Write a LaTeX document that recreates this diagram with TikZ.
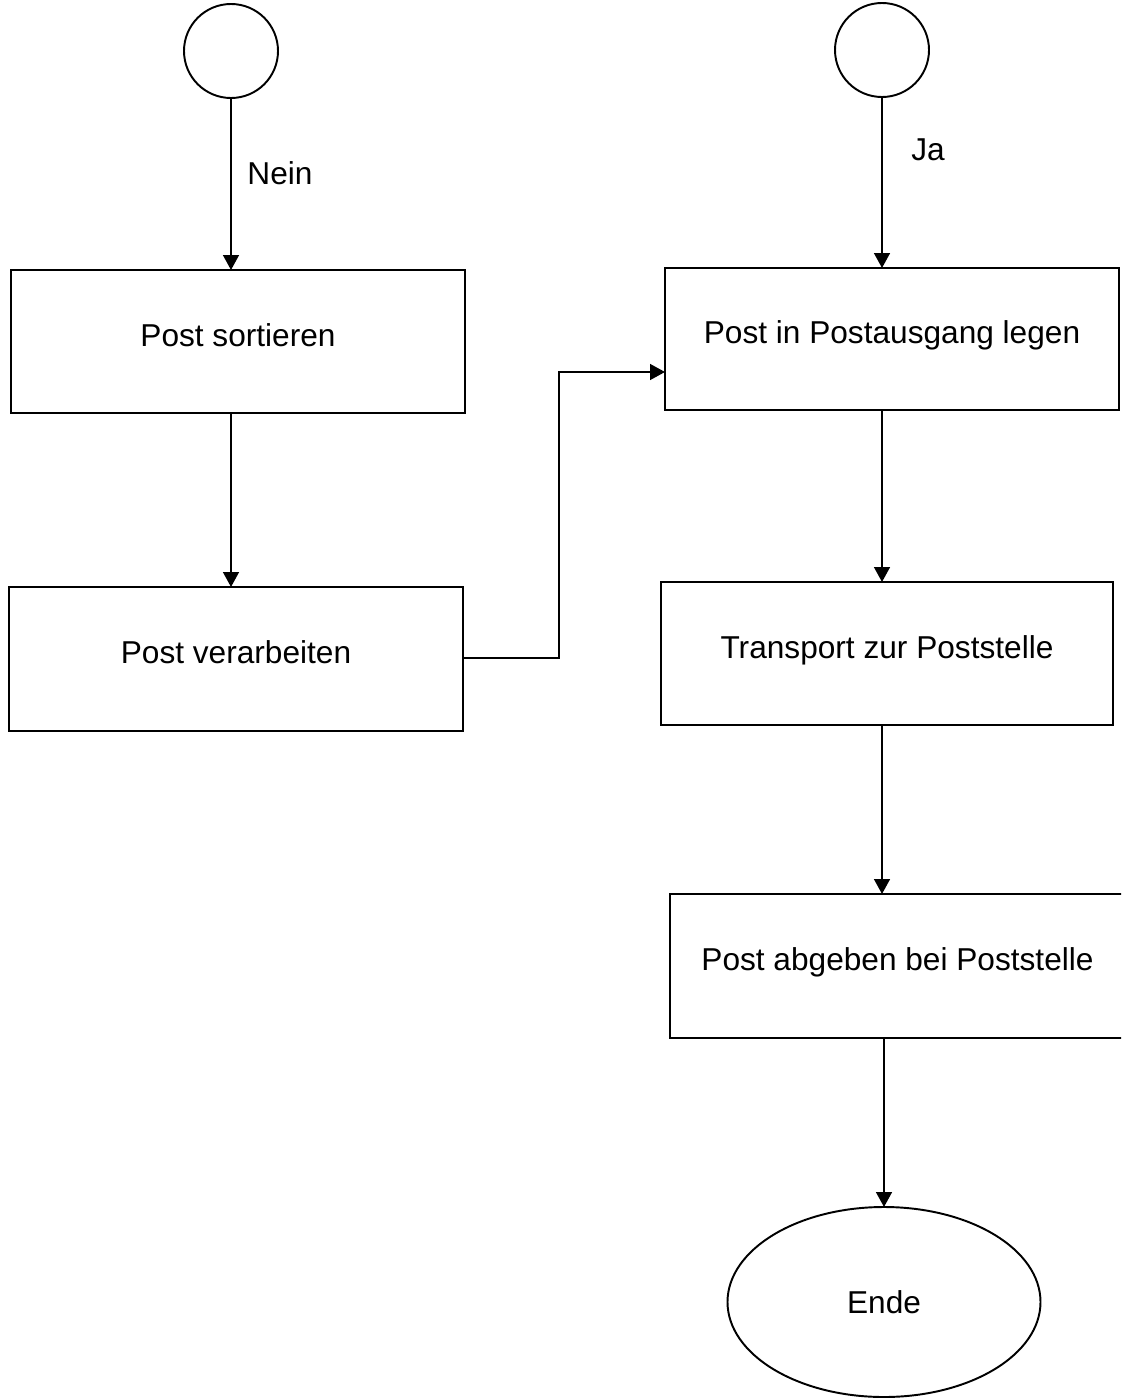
\documentclass[tikz,border=0pt]{standalone}
\usepackage{fontspec}
\setmainfont{Liberation Sans}
\usetikzlibrary{shapes.geometric,arrows.meta}

\tikzset{
  kasten/.style={draw, rectangle, line width=1.1pt, inner sep=0pt, outer sep=0pt, text height=13pt, text depth=7.5pt},
  kreis/.style={draw, circle, line width=1.1pt, minimum size=1.88cm, inner sep=0pt, outer sep=0pt},
  ende/.style={draw, ellipse, line width=1.1pt, minimum width=6.26cm, minimum height=3.8cm, inner sep=0pt, outer sep=0pt},
  marke/.style={inner sep=0pt},
  pfeil/.style={line width=1.1pt, -{Triangle[length=8.5pt,width=9pt]}}
}

\begin{document}
\begin{tikzpicture}[font=\fontsize{18}{22}\selectfont]
    \useasboundingbox (0,0) rectangle (22.42,-28);
    \clip (0,0) rectangle (22.42,-28);

    \node[kreis] (start1) at ( 4.62, -1.02) {};
    \node[kreis] (start2) at (17.64, -1.00) {};

    \node[kasten, minimum width=9.08cm, minimum height=2.86cm] (sortieren)   at ( 4.76,  -6.83) {Post sortieren};
    \node[kasten, minimum width=9.08cm, minimum height=2.88cm] (verarbeiten) at ( 4.72, -13.18) {Post verarbeiten};
    \node[kasten, minimum width=9.08cm, minimum height=2.84cm] (ausgang)     at (17.84,  -6.78) {Post in Postausgang legen};
    \node[kasten, minimum width=9.04cm, minimum height=2.86cm] (transport)   at (17.74, -13.07) {Transport zur Poststelle};
    \node[kasten, minimum width=9.10cm, minimum height=2.88cm] (abgeben)     at (17.95, -19.32) {Post abgeben bei Poststelle};
    \node[ende] (schluss) at (17.68, -26.04) {Ende};

    \node[marke] (nein) at ( 5.60, -3.46) {Nein};
    \node[marke] (ja)   at (18.56, -3.00) {Ja};

    \coordinate (knick) at (11.18, -13.16);

    \draw[pfeil] (start1.south) -- (start1 |- sortieren.north);
    \draw[pfeil] (start1 |- sortieren.south) -- (start1 |- verarbeiten.north);
    \draw[pfeil] (verarbeiten.east |- knick) -- (knick) |- ([yshift=-0.66cm]ausgang.west);
    \draw[pfeil] (start2.south) -- (start2 |- ausgang.north);
    \draw[pfeil] (start2 |- ausgang.south) -- (start2 |- transport.north);
    \draw[pfeil] (start2 |- transport.south) -- (start2 |- abgeben.north);
    \draw[pfeil] (schluss |- abgeben.south) -- (schluss.north);

  \end{tikzpicture}
\end{document}
